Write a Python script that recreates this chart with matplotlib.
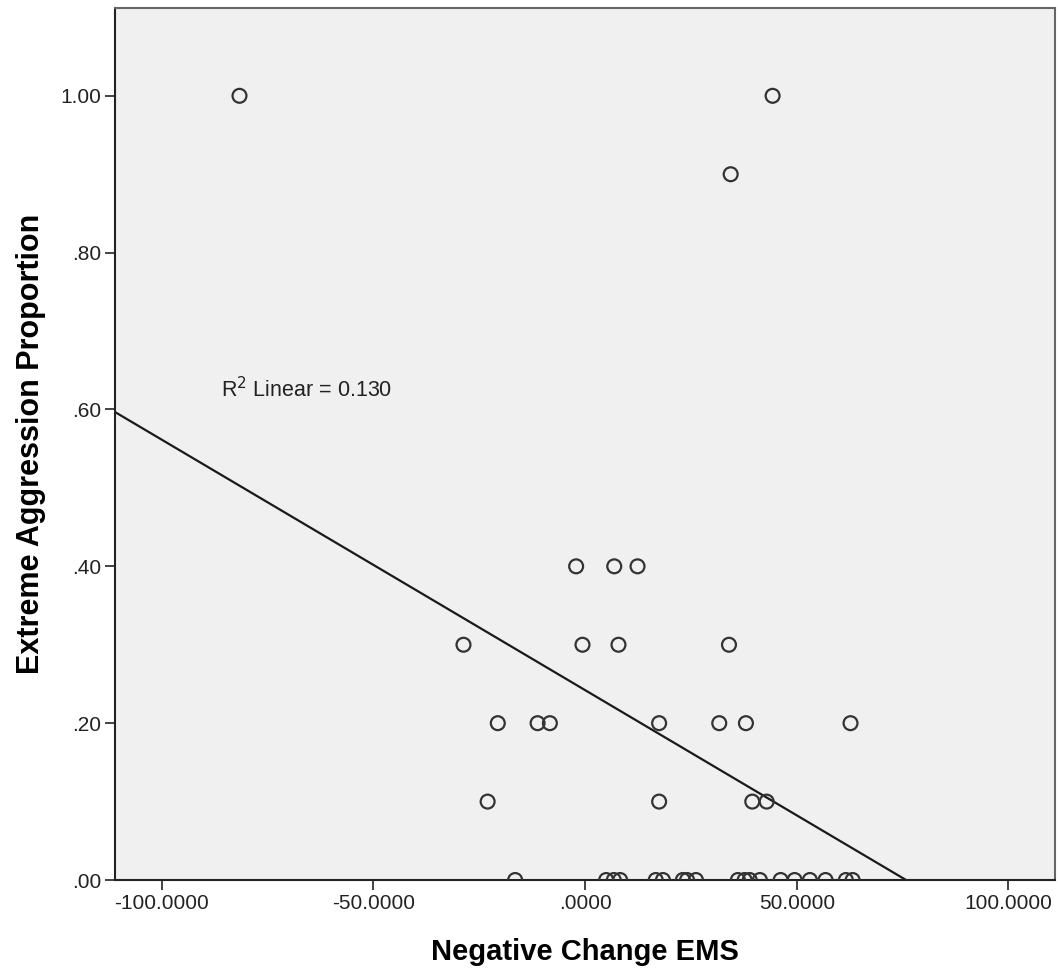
import numpy as np
import matplotlib.pyplot as plt

plt.rcParams['font.family'] = ['Liberation Sans', 'DejaVu Sans']

# Negative Change EMS vs Extreme Aggression Proportion
neg_change = [
    -81.6, 44.3, 34.4,
    -2.1, 6.9, 12.4,
    -28.7, -0.6, 7.9, 34.0,
    -20.6, -11.2, -8.3, 17.5, 31.7, 38.0, 62.7,
    -23.0, 17.5, 39.5, 42.9,
    -16.5, 5.0, 6.8, 8.3, 16.7, 18.4, 23.1, 24.1, 26.2,
    36.1, 37.7, 38.9, 41.3, 46.2, 49.5, 53.1, 56.8, 61.6, 63.2,
]
aggr_prop = [
    1.00, 1.00, 0.90,
    0.40, 0.40, 0.40,
    0.30, 0.30, 0.30, 0.30,
    0.20, 0.20, 0.20, 0.20, 0.20, 0.20, 0.20,
    0.10, 0.10, 0.10, 0.10,
    0.0, 0.0, 0.0, 0.0, 0.0, 0.0, 0.0, 0.0, 0.0,
    0.0, 0.0, 0.0, 0.0, 0.0, 0.0, 0.0, 0.0, 0.0, 0.0,
]
x_ticks = [-100, -50, 0, 50, 100]
x_ticklabels = ['-100.0000', '-50.0000', '.0000', '50.0000', '100.0000']
y_ticks = [0, 0.2, 0.4, 0.6, 0.8, 1.0]
y_ticklabels = ['.00', '.20', '.40', '.60', '.80', '1.00']
r2_text = 'R$^2$ Linear = 0.130'

x = np.array(neg_change)
y = np.array(aggr_prop)

fig = plt.figure(figsize=(10.58, 9.74), dpi=100)
ax = fig.add_axes([0.1087, 0.0965, 0.8885, 0.8953])
ax.set_facecolor('#f0f0f0')

ax.scatter(x, y, s=100, facecolors='none', edgecolors='#333333', linewidths=1.6, zorder=3)

# linear fit
slope, intercept = np.polyfit(x, y, 1)
xl = np.array([-111, 111])
ax.plot(xl, slope * xl + intercept, color='#1a1a1a', lw=1.6, zorder=2)

ax.set_xlim(-111, 111)
ax.set_ylim(0, 1.112)
ax.set_xticks(x_ticks)
ax.set_xticklabels(x_ticklabels)
ax.set_yticks(y_ticks)
ax.set_yticklabels(y_ticklabels)
ax.tick_params(direction='out', length=7, width=1.2, labelsize=15, colors='#222222', pad=3)

for s in ['left', 'bottom']:
    ax.spines[s].set_color('#222222')
    ax.spines[s].set_linewidth(1.5)
for s in ['top', 'right']:
    ax.spines[s].set_color('#666666')
    ax.spines[s].set_linewidth(1.5)

ax.text(-86, 0.625, r2_text, fontsize=15.5, va='center', ha='left', color='#222222')

ax.set_xlabel('Negative Change EMS', fontsize=21, fontweight='bold', labelpad=18)
ax.set_ylabel('Extreme Aggression Proportion', fontsize=22, fontweight='bold', labelpad=10)

fig.savefig('out.png', dpi=100)
